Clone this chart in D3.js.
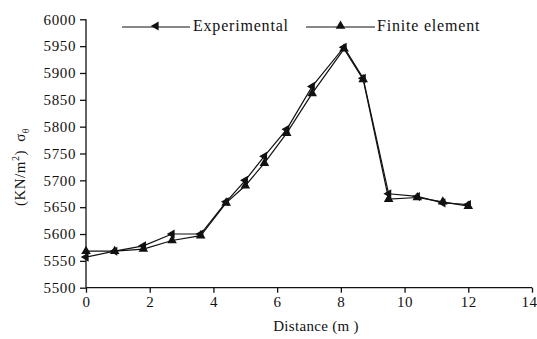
<!DOCTYPE html>
<html>
<head>
<meta charset="utf-8">
<script src="https://cdn.jsdelivr.net/npm/d3@7"></script>
<style>
  body { margin: 0; background: #fff; }
  svg text { font-family: "Liberation Serif", "DejaVu Serif", serif; fill: #111; }
</style>
</head>
<body>
<svg id="chart" width="537" height="339"></svg>
<script>
const distance = [0, 0.9, 1.8, 2.7, 3.6, 4.4, 5.0, 5.6, 6.3, 7.1, 8.1, 8.7, 9.5, 10.4, 11.2, 12.0];
const experimental = [5557, 5568, 5578, 5600, 5600, 5660, 5700, 5745, 5795, 5875, 5948, 5890, 5675, 5670, 5658, 5655];
const finiteElement = [5568, 5568, 5572, 5588, 5597, 5658, 5690, 5732, 5788, 5862, 5945, 5888, 5665, 5668, 5660, 5652];
const xTicks = [0, 2, 4, 6, 8, 10, 12, 14];
const yTicks = [5500, 5550, 5600, 5650, 5700, 5750, 5800, 5850, 5900, 5950, 6000];

const svg = d3.select("#chart");
const M = { left: 86, right: 532, top: 19.3, bottom: 287.7 };

const x = d3.scaleLinear().domain([0, 14]).range([M.left, M.right]);
const y = d3.scaleLinear().domain([5500, 6000]).range([M.bottom, M.top]);

// axes
const xAxis = svg.append("g")
  .attr("transform", `translate(0,${M.bottom})`)
  .call(d3.axisBottom(x).tickValues(xTicks).tickSize(5).tickPadding(4).tickFormat(d3.format("d")));
const yAxis = svg.append("g")
  .attr("transform", `translate(${M.left},0)`)
  .call(d3.axisLeft(y).tickValues(yTicks).tickSize(6).tickPadding(4).tickFormat(d3.format("d")));

[xAxis, yAxis].forEach(g => {
  g.select(".domain").attr("stroke", "#111").attr("stroke-width", 1.3);
  g.selectAll(".tick line").attr("stroke", "#111").attr("stroke-width", 1.3);
  g.selectAll(".tick text").attr("font-size", "15px").attr("fill", "#111")
    .style("font-family", "'Liberation Serif', serif")
    .style("letter-spacing", "0.6px");
});
xAxis.select(".domain").attr("d", `M${M.left},0H${M.right}`);
yAxis.select(".domain").attr("d", `M0,${M.bottom}V${M.top}`);
// last x label sits against the right edge
xAxis.selectAll(".tick text").filter(d => d === 14).attr("dx", "-3px");

// axis labels
svg.append("text")
  .attr("x", 316).attr("y", 331)
  .attr("text-anchor", "middle")
  .attr("font-size", "15px")
  .style("letter-spacing", "0.3px")
  .text("Distance (m )");

const yl = svg.append("text")
  .attr("transform", `translate(25,167) rotate(-90)`)
  .attr("text-anchor", "middle")
  .attr("font-size", "15px")
  .style("letter-spacing", "0.5px");
yl.append("tspan").text("(KN/m");
yl.append("tspan").attr("dy", -6).attr("font-size", "10px").text("2");
yl.append("tspan").attr("dy", 6).text(") ");
yl.append("tspan").attr("dx", 4).text("σ");
yl.append("tspan").attr("dy", 4).attr("font-size", "10px").text("θ");

// lines
const line = d3.line().x(d => x(d[0])).y(d => y(d[1]));
const expData = distance.map((d, i) => [d, experimental[i]]);
const feData = distance.map((d, i) => [d, finiteElement[i]]);

svg.append("path").datum(expData)
  .attr("d", line).attr("fill", "none").attr("stroke", "#111").attr("stroke-width", 1.2);
svg.append("path").datum(feData)
  .attr("d", line).attr("fill", "none").attr("stroke", "#111").attr("stroke-width", 1.2);

// markers
const triLeft = d3.symbol().type(d3.symbolTriangle).size(36);
const triUp = d3.symbol().type(d3.symbolTriangle).size(40);

svg.selectAll("path.exp").data(expData).join("path")
  .attr("class", "exp")
  .attr("d", triLeft)
  .attr("transform", d => `translate(${x(d[0])},${y(d[1])}) rotate(-90)`)
  .attr("fill", "#111");
svg.selectAll("path.fe").data(feData).join("path")
  .attr("class", "fe")
  .attr("d", triUp)
  .attr("transform", d => `translate(${x(d[0])},${y(d[1])})`)
  .attr("fill", "#111");

// legend
const legend = [
  { name: "Experimental", x1: 122, x2: 190, tx: 193, sym: triLeft, rot: -90 },
  { name: "Finite element", x1: 306, x2: 375, tx: 377, sym: triUp, rot: 0 },
];
const ly = 27;
legend.forEach(l => {
  svg.append("line").attr("x1", l.x1).attr("x2", l.x2).attr("y1", ly).attr("y2", ly)
    .attr("stroke", "#111").attr("stroke-width", 1.2);
  svg.append("path").attr("d", l.sym)
    .attr("transform", `translate(${(l.x1 + l.x2) / 2},${ly - 1}) rotate(${l.rot})`)
    .attr("fill", "#111");
  svg.append("text").attr("x", l.tx).attr("y", ly + 4)
    .attr("font-size", "16px")
    .style("letter-spacing", "0.8px")
    .text(l.name);
});
</script>
</body>
</html>
